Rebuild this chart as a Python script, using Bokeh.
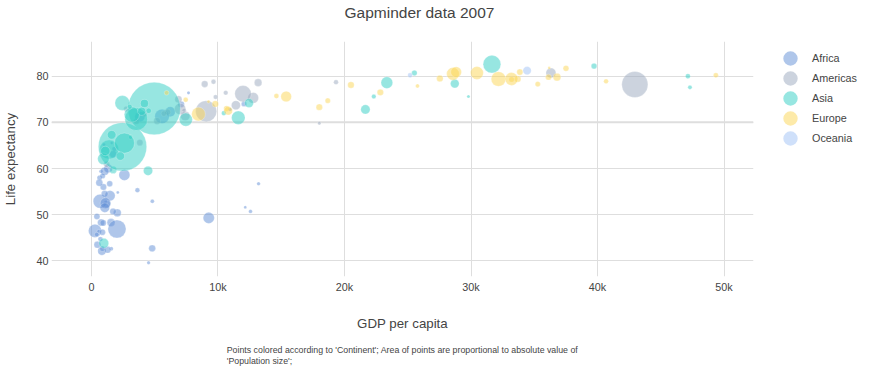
import math
from bokeh.plotting import figure
from bokeh.layouts import row
from bokeh.models import ColumnDataSource, Range1d, FixedTicker, Title, Legend, LegendItem, Span
from bokeh.embed import file_html
from bokeh.resources import INLINE

# ---------------- data (Gapminder 2007) ----------------
continent_names = ["Africa", "Americas", "Asia", "Europe", "Oceania"]
continent_colors = ["#5f8dd5", "#99a7bd", "#2fcdc3", "#fbd553", "#9fc1f5"]

africa_country = ["Algeria", "Angola", "Benin", "Botswana", "Burkina Faso", "Burundi", "Cameroon",
                  "Central African Republic", "Chad", "Comoros", "Congo, Dem. Rep.", "Congo, Rep.",
                  "Cote d'Ivoire", "Djibouti", "Egypt", "Equatorial Guinea", "Eritrea", "Ethiopia",
                  "Gabon", "Gambia", "Ghana", "Guinea", "Guinea-Bissau", "Kenya", "Lesotho", "Liberia",
                  "Libya", "Madagascar", "Malawi", "Mali", "Mauritania", "Mauritius", "Morocco",
                  "Mozambique", "Namibia", "Niger", "Nigeria", "Reunion", "Rwanda",
                  "Sao Tome and Principe", "Senegal", "Sierra Leone", "Somalia", "South Africa",
                  "Sudan", "Swaziland", "Tanzania", "Togo", "Tunisia", "Uganda", "Zambia", "Zimbabwe"]
africa_gdp = [6223.4, 4797.2, 1441.3, 12569.9, 1217.0, 430.1, 2042.1, 706.0, 1704.1, 986.1, 277.6,
              3632.6, 1544.8, 2082.5, 5581.2, 12154.1, 641.4, 690.8, 13206.5, 752.7, 1327.6, 942.7,
              579.2, 1463.2, 1569.3, 414.5, 12057.5, 1044.8, 759.3, 1042.6, 1803.2, 10957.0, 3820.2,
              823.7, 4811.1, 619.7, 2014.0, 7670.1, 863.1, 1598.4, 1712.5, 862.5, 926.1, 9269.7,
              2602.4, 4513.5, 1107.5, 883.0, 7092.9, 1056.4, 1271.2, 469.7]
africa_life = [72.3, 42.7, 56.7, 50.7, 52.3, 49.6, 50.4, 44.7, 50.7, 65.2, 46.5, 55.3, 48.3, 54.8,
               71.3, 51.6, 58.0, 52.9, 56.7, 59.4, 60.0, 56.0, 46.4, 54.1, 42.6, 45.7, 74.0, 59.4,
               48.3, 54.5, 64.2, 72.8, 71.2, 42.1, 52.9, 56.9, 46.9, 76.4, 46.2, 65.5, 63.1, 42.6,
               48.2, 49.3, 58.6, 39.6, 52.5, 58.4, 73.9, 51.5, 42.4, 43.5]
africa_pop = [33333216, 12420476, 8078314, 1639131, 14326203, 8390505, 17696293, 4369038, 10238807,
              710960, 64606759, 3800610, 18013409, 496374, 80264543, 551201, 4906585, 76511887,
              1454867, 1688359, 22873338, 9947814, 1472041, 35610177, 2012649, 3193942, 6036914,
              19167654, 13327079, 12031795, 3270065, 1250882, 33757175, 19951656, 2055080, 12894865,
              135031164, 798094, 8860588, 199579, 12267493, 6144562, 9118773, 43997828, 42292929,
              1133066, 38139640, 5701579, 10276158, 29170398, 11746035, 12311143]

americas_country = ["Argentina", "Bolivia", "Brazil", "Canada", "Chile", "Colombia", "Costa Rica", "Cuba",
                    "Dominican Republic", "Ecuador", "El Salvador", "Guatemala", "Haiti", "Honduras",
                    "Jamaica", "Mexico", "Nicaragua", "Panama", "Paraguay", "Peru", "Puerto Rico",
                    "Trinidad and Tobago", "United States", "Uruguay", "Venezuela"]
americas_gdp = [12779.4, 3822.1, 9065.8, 36319.2, 13171.6, 7006.6, 9645.1, 8948.1, 6025.4, 6873.3,
                5728.4, 5186.1, 1201.6, 3548.3, 7320.9, 11977.6, 2749.3, 9809.2, 4172.8, 7408.9,
                19328.7, 18008.5, 42951.7, 10611.5, 11415.8]
americas_life = [75.3, 65.6, 72.4, 80.7, 78.6, 72.9, 78.8, 78.3, 72.2, 75.0, 71.9, 70.3, 60.9, 70.2,
                 72.6, 76.2, 72.9, 75.5, 71.8, 71.4, 78.7, 69.8, 78.2, 76.4, 73.7]
americas_pop = [40301927, 9119152, 190010647, 33390141, 16284741, 44227550, 4133884, 11416987, 9319622,
                13755680, 6939688, 12572928, 8502814, 7483763, 2780132, 108700891, 5675356, 3242173,
                6667147, 28674757, 3942491, 1056608, 301139947, 3447496, 26084662]

asia_country = ["Afghanistan", "Bahrain", "Bangladesh", "Cambodia", "China", "Hong Kong, China", "India",
                "Indonesia", "Iran", "Iraq", "Israel", "Japan", "Jordan", "Korea, Dem. Rep.",
                "Korea, Rep.", "Kuwait", "Lebanon", "Malaysia", "Mongolia", "Myanmar", "Nepal", "Oman",
                "Pakistan", "Philippines", "Saudi Arabia", "Singapore", "Sri Lanka", "Syria", "Taiwan",
                "Thailand", "Vietnam", "West Bank and Gaza", "Yemen, Rep."]
asia_gdp = [974.6, 29796.0, 1391.3, 1713.8, 4959.1, 39725.0, 2452.2, 3540.7, 11605.7, 4471.1, 25523.3,
            31656.1, 4519.5, 1593.1, 23348.1, 47307.0, 10461.1, 12451.7, 3095.8, 944.0, 1091.4, 22316.2,
            2605.9, 3190.5, 21654.8, 47143.2, 3970.1, 4184.5, 28718.3, 7458.4, 2441.6, 3025.3, 2280.8]
asia_life = [43.8, 75.6, 64.1, 59.7, 73.0, 82.2, 64.7, 70.7, 71.0, 59.5, 80.7, 82.6, 72.5, 67.3, 78.6,
             77.6, 72.0, 74.2, 66.8, 62.1, 63.8, 75.6, 65.5, 71.7, 72.8, 80.0, 72.4, 74.1, 78.4, 70.6,
             74.2, 73.4, 62.7]
asia_pop = [31889923, 708573, 150448339, 14131858, 1318683096, 6980412, 1110396331, 223547000, 69453570,
            27499638, 6426679, 127467972, 6053193, 23301725, 49044790, 2505559, 3921278, 24821286,
            2874127, 47761980, 28901790, 3204897, 169270617, 91077287, 27601038, 4553009, 20378239,
            19314747, 23174294, 65068149, 85262356, 4018332, 22211743]

europe_country = ["Albania", "Austria", "Belgium", "Bosnia and Herzegovina", "Bulgaria", "Croatia",
                  "Czech Republic", "Denmark", "Finland", "France", "Germany", "Greece", "Hungary",
                  "Iceland", "Ireland", "Italy", "Montenegro", "Netherlands", "Norway", "Poland",
                  "Portugal", "Romania", "Serbia", "Slovak Republic", "Slovenia", "Spain", "Sweden",
                  "Switzerland", "Turkey", "United Kingdom"]
europe_gdp = [5937.0, 36126.5, 33692.6, 7446.3, 10680.8, 14619.2, 22833.3, 35278.4, 33207.1, 30470.0,
              32170.4, 27538.4, 18008.9, 36180.8, 40676.0, 28569.7, 9253.9, 36797.9, 49357.2, 15389.9,
              20509.6, 10808.5, 9786.5, 18678.3, 25768.3, 28821.1, 33859.7, 37506.4, 8458.3, 33203.3]
europe_life = [76.4, 79.8, 79.4, 74.9, 73.0, 75.7, 76.5, 78.3, 79.3, 80.7, 79.4, 79.5, 73.3, 81.8,
               78.9, 80.5, 74.5, 79.8, 80.2, 75.6, 78.1, 72.5, 74.0, 74.7, 77.9, 80.9, 80.9, 81.7,
               71.8, 79.4]
europe_pop = [3600523, 8199783, 10392226, 4552198, 7322858, 4493312, 10228744, 5468120, 5238460,
              61083916, 82400996, 10706290, 9956108, 301931, 4109086, 58147733, 684736, 16570613,
              4627926, 38518241, 10642836, 22276056, 10150265, 5447502, 2009245, 40448191, 9031088,
              7554661, 71158647, 60776238]

oceania_country = ["Australia", "New Zealand"]
oceania_gdp = [34435.4, 25185.0]
oceania_life = [81.2, 80.2]
oceania_pop = [20434176, 4115771]

x_tick_values = [0, 10000, 20000, 30000, 40000, 50000]
x_tick_labels = ["0", "10k", "20k", "30k", "40k", "50k"]
y_tick_values = [40, 50, 60, 70, 80]
y_emphasis_value = 70   # this grid line is drawn heavier in the original

title_text = "Gapminder data 2007"
x_title = "GDP per capita"
y_title = "Life expectancy"
note_line1 = "Points colored according to 'Continent'; Area of points are proportional to absolute value of"
note_line2 = "'Population size';"

groups = [
    (africa_country, africa_gdp, africa_life, africa_pop),
    (americas_country, americas_gdp, americas_life, americas_pop),
    (asia_country, asia_gdp, asia_life, asia_pop),
    (europe_country, europe_gdp, europe_life, europe_pop),
    (oceania_country, oceania_gdp, oceania_life, oceania_pop),
]

# ---------------- main figure ----------------
FONT = "Liberation Sans"
TXT = "#444444"
GRID = "#dedede"

p = figure(width=760, height=373, output_backend="svg", toolbar_location=None, title=None,
           x_range=Range1d(-3160, 52330), y_range=Range1d(36.6, 87.52),
           min_border_left=51, min_border_right=7, min_border_top=41, min_border_bottom=97)
p.outline_line_color = None
p.background_fill_color = "white"
p.border_fill_color = "white"

# above: spacer next to the frame, title on the outside
p.add_layout(Title(text=" ", text_font_size="1px", standoff=13), "above")
p.add_layout(Title(text=title_text, align="left", offset=293, standoff=6, vertical_align="top",
                   text_font=FONT, text_font_size="15.5px", text_font_style="normal",
                   text_color=TXT), "above")

max_pop = max(max(g[3]) for g in groups)
sources = []
for (names, gdp, life, pop), col in zip(groups, continent_colors):
    sizes = [2.0 + 50.5 * math.sqrt(v / max_pop) for v in pop]
    src = ColumnDataSource(dict(country=names, gdp=gdp, life=life, pop=pop, size=sizes))
    sources.append(src)
    p.scatter("gdp", "life", source=src, size="size", marker="circle",
              fill_color=col, fill_alpha=0.5, line_color="white", line_alpha=0.5, line_width=0.5)

# axes
for ax in (p.xaxis[0], p.yaxis[0]):
    ax.axis_line_color = None
    ax.major_tick_line_color = None
    ax.minor_tick_line_color = None
    ax.major_tick_out = 0
    ax.major_tick_in = 0
    ax.minor_tick_out = 0
    ax.major_label_text_font = FONT
    ax.major_label_text_font_size = "10.8px"
    ax.major_label_text_color = TXT
    ax.axis_label_text_font = FONT
    ax.axis_label_text_font_size = "13.3px"
    ax.axis_label_text_color = TXT
    ax.axis_label_text_font_style = "normal"

p.xaxis.ticker = FixedTicker(ticks=x_tick_values)
p.xaxis.major_label_overrides = {v: s for v, s in zip(x_tick_values, x_tick_labels)}
p.xaxis.major_label_standoff = 4
p.xaxis.axis_label = x_title
p.xaxis.axis_label_standoff = 20

p.yaxis.ticker = FixedTicker(ticks=y_tick_values)
p.yaxis.major_label_standoff = 3
p.yaxis.axis_label = y_title
p.yaxis.axis_label_standoff = 15

p.xgrid.ticker = FixedTicker(ticks=x_tick_values)
p.ygrid.ticker = FixedTicker(ticks=y_tick_values)
for g in (p.xgrid[0], p.ygrid[0]):
    g.grid_line_color = GRID
    g.grid_line_width = 1
    g.level = "underlay"

p.add_layout(Span(location=y_emphasis_value, dimension="width", line_color=GRID,
                  line_width=2, level="underlay"))

# footnote below the x axis title (leading blank line gives the gap)
p.add_layout(Title(text="\n" + note_line1 + "\n" + note_line2, align="center", standoff=0,
                   vertical_align="top", text_line_height=1.1, text_font=FONT,
                   text_font_size="8.8px", text_font_style="normal", text_color=TXT), "below")

# ---------------- legend panel (separate narrow figure at the right) ----------------
pl = figure(width=114, height=373, output_backend="svg", toolbar_location=None, title=None,
            x_axis_location=None, y_axis_location=None,
            x_range=Range1d(-3160, 52330), y_range=Range1d(36.6, 87.52),
            min_border_left=0, min_border_right=0, min_border_top=40, min_border_bottom=0)
pl.outline_line_color = None
pl.xgrid.visible = False
pl.ygrid.visible = False
pl.background_fill_color = "white"
pl.border_fill_color = "white"

items = []
for src, cname, col in zip(sources, continent_names, continent_colors):
    key = pl.scatter("gdp", "life", source=src, marker="circle", fill_alpha=0,
                     line_color=col, line_alpha=0.5, line_width=7.2, visible=False)
    items.append(LegendItem(label=cname, renderers=[key]))

legend = Legend(items=items, location="top_left", orientation="vertical", ncols=1,
                glyph_width=44, glyph_height=18, label_height=18, spacing=2,
                label_standoff=0, padding=0, margin=8,
                border_line_color=None, background_fill_alpha=0,
                label_text_font=FONT, label_text_font_size="10.8px", label_text_color=TXT)
pl.add_layout(legend, "center")

layout = row(p, pl)
open("out.html", "w").write(file_html(layout, INLINE))
